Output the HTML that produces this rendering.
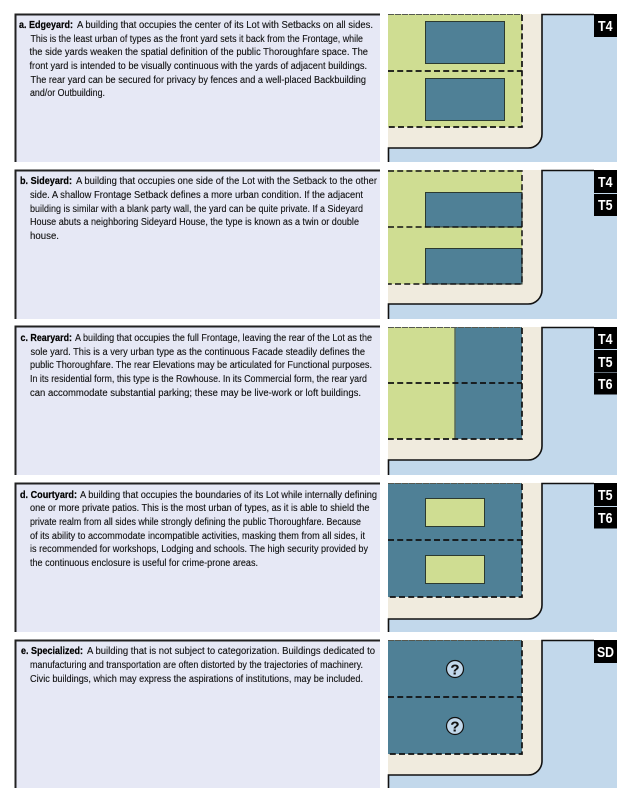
<!DOCTYPE html>
<html><head><meta charset="utf-8"><style>
html,body{margin:0;padding:0;background:#fff}
svg{display:block}
text{font-family:"Liberation Sans",sans-serif;font-size:10px;fill:#111;stroke:#111;stroke-width:.12}
.b{font-weight:bold;fill:#000;stroke:#000;stroke-width:.2}
.t{font-weight:bold;font-size:15px;fill:#fff;stroke:none}
.p{fill:#e6e8f5}
.n{fill:none;stroke:#222;stroke-width:2}
.k{fill:none;stroke:#111;stroke-width:1.6}
.d{fill:none;stroke:#111;stroke-width:1.7;stroke-dasharray:6 3.2}
.u{fill:none;stroke:#55584f;stroke-width:1;stroke-dasharray:6 1}
.bl{fill:#4f8096;stroke:#2c3a30;stroke-width:1}
.g{fill:#cfdd92;stroke:#2c3a30;stroke-width:1}
.q{font-weight:bold;font-size:15px;fill:#111;text-anchor:middle}
</style></head><body>
<svg width="631" height="809" viewBox="0 0 631 809" xmlns="http://www.w3.org/2000/svg">
<!-- a -->
<rect class="p" x="15" y="14" width="365" height="148"/>
<path class="n" d="M15.5 162V14.500H380"/>
<text class="b" x="19" y="28" textLength="54" lengthAdjust="spacingAndGlyphs">a. Edgeyard:</text>
<text x="77" y="28" textLength="296" lengthAdjust="spacingAndGlyphs">A building that occupies the center of its Lot with Setbacks on all sides.</text>
<text x="30.5" y="42" textLength="332.5" lengthAdjust="spacingAndGlyphs">This is the least urban of types as the front yard sets it back from the Frontage, while</text>
<text x="29.5" y="55" textLength="338.5" lengthAdjust="spacingAndGlyphs">the side yards weaken the spatial definition of the public Thoroughfare space. The</text>
<text x="29.5" y="69" textLength="337.5" lengthAdjust="spacingAndGlyphs">front yard is intended to be visually continuous with the yards of adjacent buildings.</text>
<text x="30.5" y="83" textLength="335.5" lengthAdjust="spacingAndGlyphs">The rear yard can be secured for privacy by fences and a well-placed Backbuilding</text>
<text x="30" y="96" textLength="75" lengthAdjust="spacingAndGlyphs">and/or Outbuilding.</text>

<rect x="388" y="14" width="229" height="148" fill="#c2d8eb"/>
<path d="M388 14H542V134a14 14 0 0 1-14 14H388Z" fill="#f0ebde"/>
<rect x="388" y="14" width="134" height="113" fill="#cfdd92"/>
<rect class="bl" x="425.500" y="21.500" width="79" height="42"/>
<rect class="bl" x="425.500" y="78.500" width="79" height="42"/>
<path class="u" d="M388 14.500H522"/>
<path class="d" d="M522 15V127H388M388 71H522"/>
<path class="k" d="M388.500 162V148H528a14 14 0 0 0 14-14V14.500H594"/>
<rect x="594" y="14" width="23" height="23" fill="#000"/>
<text class="t" x="598" y="31" textLength="14.500" lengthAdjust="spacingAndGlyphs">T4</text>

<!-- b -->
<rect class="p" x="15" y="170" width="365" height="149"/>
<path class="n" d="M15.500 319V170.500H380"/>
<text class="b" x="20" y="184" textLength="52" lengthAdjust="spacingAndGlyphs">b. Sideyard:</text>
<text x="76" y="184" textLength="301" lengthAdjust="spacingAndGlyphs">A building that occupies one side of the Lot with the Setback to the other</text>
<text x="30" y="198" textLength="333" lengthAdjust="spacingAndGlyphs">side. A shallow Frontage Setback defines a more urban condition. If the adjacent</text>
<text x="30" y="212" textLength="333" lengthAdjust="spacingAndGlyphs">building is similar with a blank party wall, the yard can be quite private. If a Sideyard</text>
<text x="30" y="225" textLength="329" lengthAdjust="spacingAndGlyphs">House abuts a neighboring Sideyard House, the type is known as a twin or double</text>
<text x="30" y="239" textLength="29" lengthAdjust="spacingAndGlyphs">house.</text>

<rect x="388" y="170" width="229" height="149" fill="#c2d8eb"/>
<path d="M388 170H542V290a14 14 0 0 1-14 14H388Z" fill="#f0ebde"/>
<rect x="388" y="170" width="134" height="114" fill="#cfdd92"/>
<path class="bl" d="M522 192.500H425.500V227H522Z"/>
<path class="bl" d="M522 248.500H425.500V284H522Z"/>
<path class="d" d="M388 171H522V284H388M388 227H522" style="stroke-width:1.500"/>
<path class="k" d="M388.500 319V304H528a14 14 0 0 0 14-14V170.500H594"/>
<rect x="594" y="170" width="23" height="23" fill="#000"/>
<rect x="594" y="194" width="23" height="22" fill="#000"/>
<text class="t" x="598" y="187" textLength="14.500" lengthAdjust="spacingAndGlyphs">T4</text>
<text class="t" x="598" y="210" textLength="14.500" lengthAdjust="spacingAndGlyphs">T5</text>

<!-- c -->
<rect class="p" x="15" y="326" width="365" height="149"/>
<path class="n" d="M15.500 475V326.500H380"/>
<text class="b" x="20.500" y="341" textLength="51.500" lengthAdjust="spacingAndGlyphs">c. Rearyard:</text>
<text x="75" y="341" textLength="297" lengthAdjust="spacingAndGlyphs">A building that occupies the full Frontage, leaving the rear of the Lot as the</text>
<text x="30.500" y="355" textLength="334.500" lengthAdjust="spacingAndGlyphs">sole yard. This is a very urban type as the continuous Facade steadily defines the</text>
<text x="30" y="368" textLength="342" lengthAdjust="spacingAndGlyphs">public Thoroughfare. The rear Elevations may be articulated for Functional purposes.</text>
<text x="30" y="382" textLength="337" lengthAdjust="spacingAndGlyphs">In its residential form, this type is the Rowhouse. In its Commercial form, the rear yard</text>
<text x="30" y="396" textLength="331" lengthAdjust="spacingAndGlyphs">can accommodate substantial parking; these may be live-work or loft buildings.</text>

<rect x="388" y="327" width="229" height="148" fill="#c2d8eb"/>
<path d="M388 327H542V446a14 14 0 0 1-14 14H388Z" fill="#f0ebde"/>
<rect x="388" y="327" width="134" height="112" fill="#cfdd92"/>
<rect x="455" y="327" width="67" height="112" fill="#4f8096"/>
<path d="M455 327V439" stroke="#5a6a58" stroke-width="1.500" fill="none"/>
<path class="u" d="M388 327.500H522"/>
<path class="d" d="M522 328V439H388M388 383H522"/>
<path class="k" d="M388.500 475V460H528a14 14 0 0 0 14-14V327.500H594"/>
<rect x="594" y="327" width="23" height="22" fill="#000"/>
<rect x="594" y="350" width="23" height="22" fill="#000"/>
<rect x="594" y="372.500" width="23" height="22" fill="#000"/>
<text class="t" x="598" y="344" textLength="14.500" lengthAdjust="spacingAndGlyphs">T4</text>
<text class="t" x="598" y="367" textLength="14.500" lengthAdjust="spacingAndGlyphs">T5</text>
<text class="t" x="598" y="389" textLength="14.500" lengthAdjust="spacingAndGlyphs">T6</text>

<!-- d -->
<rect class="p" x="15" y="483" width="365" height="149"/>
<path class="n" d="M15.500 632V483.500H380"/>
<text class="b" x="20" y="498" textLength="57" lengthAdjust="spacingAndGlyphs">d. Courtyard:</text>
<text x="80" y="498" textLength="297" lengthAdjust="spacingAndGlyphs">A building that occupies the boundaries of its Lot while internally defining</text>
<text x="30" y="511" textLength="339.500" lengthAdjust="spacingAndGlyphs">one or more private patios. This is the most urban of types, as it is able to shield the</text>
<text x="30" y="525" textLength="331" lengthAdjust="spacingAndGlyphs">private realm from all sides while strongly defining the public Thoroughfare. Because</text>
<text x="30" y="539" textLength="335" lengthAdjust="spacingAndGlyphs">of its ability to accommodate incompatible activities, masking them from all sides, it</text>
<text x="30" y="552" textLength="338" lengthAdjust="spacingAndGlyphs">is recommended for workshops, Lodging and schools. The high security provided by</text>
<text x="30" y="566" textLength="228" lengthAdjust="spacingAndGlyphs">the continuous enclosure is useful for crime-prone areas.</text>

<rect x="388" y="483" width="229" height="149" fill="#c2d8eb"/>
<path d="M388 483H542V605a14 14 0 0 1-14 14H388Z" fill="#f0ebde"/>
<rect x="388" y="483" width="134" height="114" fill="#4f8096"/>
<rect class="g" x="425.500" y="498.500" width="59" height="28"/>
<rect class="g" x="425.500" y="555.500" width="59" height="28"/>
<path class="u" d="M388 483.500H522"/>
<path class="d" d="M522 484V597H388M388 540H522"/>
<path class="k" d="M388.500 632V619H528a14 14 0 0 0 14-14V483.500H594"/>
<rect x="594" y="483" width="23" height="23" fill="#000"/>
<rect x="594" y="507" width="23" height="21.500" fill="#000"/>
<text class="t" x="598" y="500" textLength="14.500" lengthAdjust="spacingAndGlyphs">T5</text>
<text class="t" x="598" y="523" textLength="14.500" lengthAdjust="spacingAndGlyphs">T6</text>

<!-- e -->
<rect class="p" x="15" y="640" width="365" height="148"/>
<path class="n" d="M15.500 788V640.500H380"/>
<text class="b" x="21" y="654" textLength="62" lengthAdjust="spacingAndGlyphs">e. Specialized:</text>
<text x="87" y="654" textLength="288" lengthAdjust="spacingAndGlyphs">A building that is not subject to categorization. Buildings dedicated to</text>
<text x="30" y="668" textLength="333" lengthAdjust="spacingAndGlyphs">manufacturing and transportation are often distorted by the trajectories of machinery.</text>
<text x="30" y="682" textLength="333" lengthAdjust="spacingAndGlyphs">Civic buildings, which may express the aspirations of institutions, may be included.</text>

<rect x="388" y="640" width="229" height="148" fill="#c2d8eb"/>
<path d="M388 640H542V761a14 14 0 0 1-14 14H388Z" fill="#f0ebde"/>
<rect x="388" y="640" width="134" height="114" fill="#4f8096"/>
<path class="u" d="M388 640.500H522"/>
<path class="d" d="M522 641V754H388M388 697H522"/>
<path class="k" d="M388.500 788V775H528a14 14 0 0 0 14-14V640.500H594"/>
<circle cx="455" cy="669" r="8.500" fill="#c2d8eb" stroke="#111" stroke-width="1.200"/>
<circle cx="455" cy="726" r="8.500" fill="#c2d8eb" stroke="#111" stroke-width="1.200"/>
<text class="q" x="455" y="674.500">?</text>
<text class="q" x="455" y="731.500">?</text>
<rect x="594" y="640" width="23" height="23" fill="#000"/>
<text class="t" x="597" y="657" textLength="17" lengthAdjust="spacingAndGlyphs">SD</text>
</svg>
</body></html>
